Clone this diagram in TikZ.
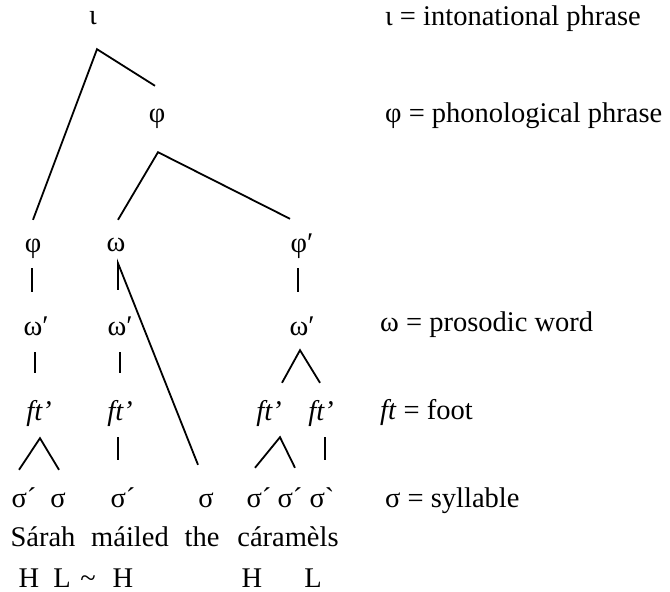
\documentclass[tikz,border=0pt]{standalone}
\usepackage{fontspec}
\setmainfont{Liberation Serif}
\usepackage{tikz}

\tikzset{
  tnode/.style={anchor=base, inner sep=0pt, text height=16pt, text depth=4pt, minimum height=50pt},
  branch/.style={line width=1.8pt},
  gloss/.style={anchor=base, inner sep=0pt},
  legend/.style={anchor=base west, inner sep=0pt}
}

\begin{document}
\begin{tikzpicture}[x=1pt, y=-1pt, font=\fontsize{28.5}{34}\selectfont]
  \useasboundingbox (0,0) rectangle (670,592);

  % prosodic tree, top down
  \node[tnode] (iota) at (93,24) {ι};
  \node[tnode] (phiTop) at (157,122) {φ};
  \node[tnode] (phiL) at (33,252) {φ};
  \node[tnode] (omW) at (116,251) {ω};
  \node[tnode] (phiR) at (302,252) {φ′};
  \node[tnode] (omL) at (36,335) {ω′};
  \node[tnode] (omM) at (120,335) {ω′};
  \node[tnode] (omR) at (302,335) {ω′};
  \node[tnode] (ftL) at (39,420) {\textit{ft’}};
  \node[tnode] (ftM) at (120,420) {\textit{ft’}};
  \node[tnode] (ftC) at (269,420) {\textit{ft’}};
  \node[tnode] (ftD) at (321,420) {\textit{ft’}};
  \node[tnode] (sigA) at (24,507) {σ´};
  \node[tnode] (sigB) at (58,507) {σ};
  \node[tnode] (sigC) at (123,507) {σ´};
  \node[tnode] (sigD) at (206,507) {σ};
  \node[tnode] (sigE) at (259,507) {σ´};
  \node[tnode] (sigF) at (290,507) {σ´};
  \node[tnode] (sigG) at (322,507) {σ\textasciigrave};

  % branches
  \draw[branch] ([shift={(0,-1)}]phiL.north) -- ([shift={(4,6)}]iota.south) -- ([shift={(-2,-5)}]phiTop.north);
  \draw[branch] ([shift={(2,0)}]omW.north) -- ([shift={(1,11)}]phiTop.south) -- ([shift={(-12,-2)}]phiR.north);
  \draw[branch] ([shift={(-1,-3)}]phiL.south) -- ([shift={(-4,-12)}]omL.north);
  \draw[branch] ([shift={(-2,-14)}]omM.north) -- ([shift={(2,-7)}]omW.south) -- ([shift={(-8,-11)}]sigD.north);
  \draw[branch] ([shift={(-4,-3)}]phiR.south) -- ([shift={(-4,-12)}]omR.north);
  \draw[branch] ([shift={(-1,-2)}]omL.south) -- ([shift={(-4,-16)}]ftL.north);
  \draw[branch] ([shift={(0,-2)}]omM.south) -- ([shift={(0,-16)}]ftM.north);
  \draw[branch] ([shift={(13,-6)}]ftC.north) -- ([shift={(-2,-4)}]omR.south) -- ([shift={(-1,-6)}]ftD.north);
  \draw[branch] ([shift={(-5,-6)}]sigA.north) -- ([shift={(1,-1)}]ftL.south) -- ([shift={(1,-6)}]sigB.north);
  \draw[branch] ([shift={(-2,-2)}]ftM.south) -- ([shift={(-5,-16)}]sigC.north);
  \draw[branch] ([shift={(-4,-8)}]sigE.north) -- ([shift={(11,-2)}]ftC.south) -- ([shift={(5,-8)}]sigF.north);
  \draw[branch] ([shift={(4,-2)}]ftD.south) -- ([shift={(3,-16)}]sigG.north);

  % sentence and tones
  \node[gloss] (wSarah) at (43,546) {Sárah};
  \node[gloss] (wMailed) at (130,546) {máiled};
  \node[gloss] (wThe) at (202,546) {the};
  \node[gloss] (wCaramels) at (288,546) {cáramèls};
  \node[gloss] (tH1) at (29,587) {H};
  \node[gloss] (tL1) at (62,587) {L};
  \node[gloss] (tTilde) at (88,587) {\textasciitilde};
  \node[gloss] (tH2) at (123,587) {H};
  \node[gloss] (tH3) at (252,587) {H};
  \node[gloss] (tL2) at (313,587) {L};

  % key
  \node[legend] (keyIota) at (385,25) {ι = intonational phrase};
  \node[legend] (keyPhi) at (385,122) {φ = phonological phrase};
  \node[legend] (keyOmega) at (380,331) {ω = prosodic word};
  \node[legend] (keyFt) at (380,419) {\textit{ft} = foot};
  \node[legend] (keySigma) at (385,507) {σ = syllable};
\end{tikzpicture}
\end{document}
